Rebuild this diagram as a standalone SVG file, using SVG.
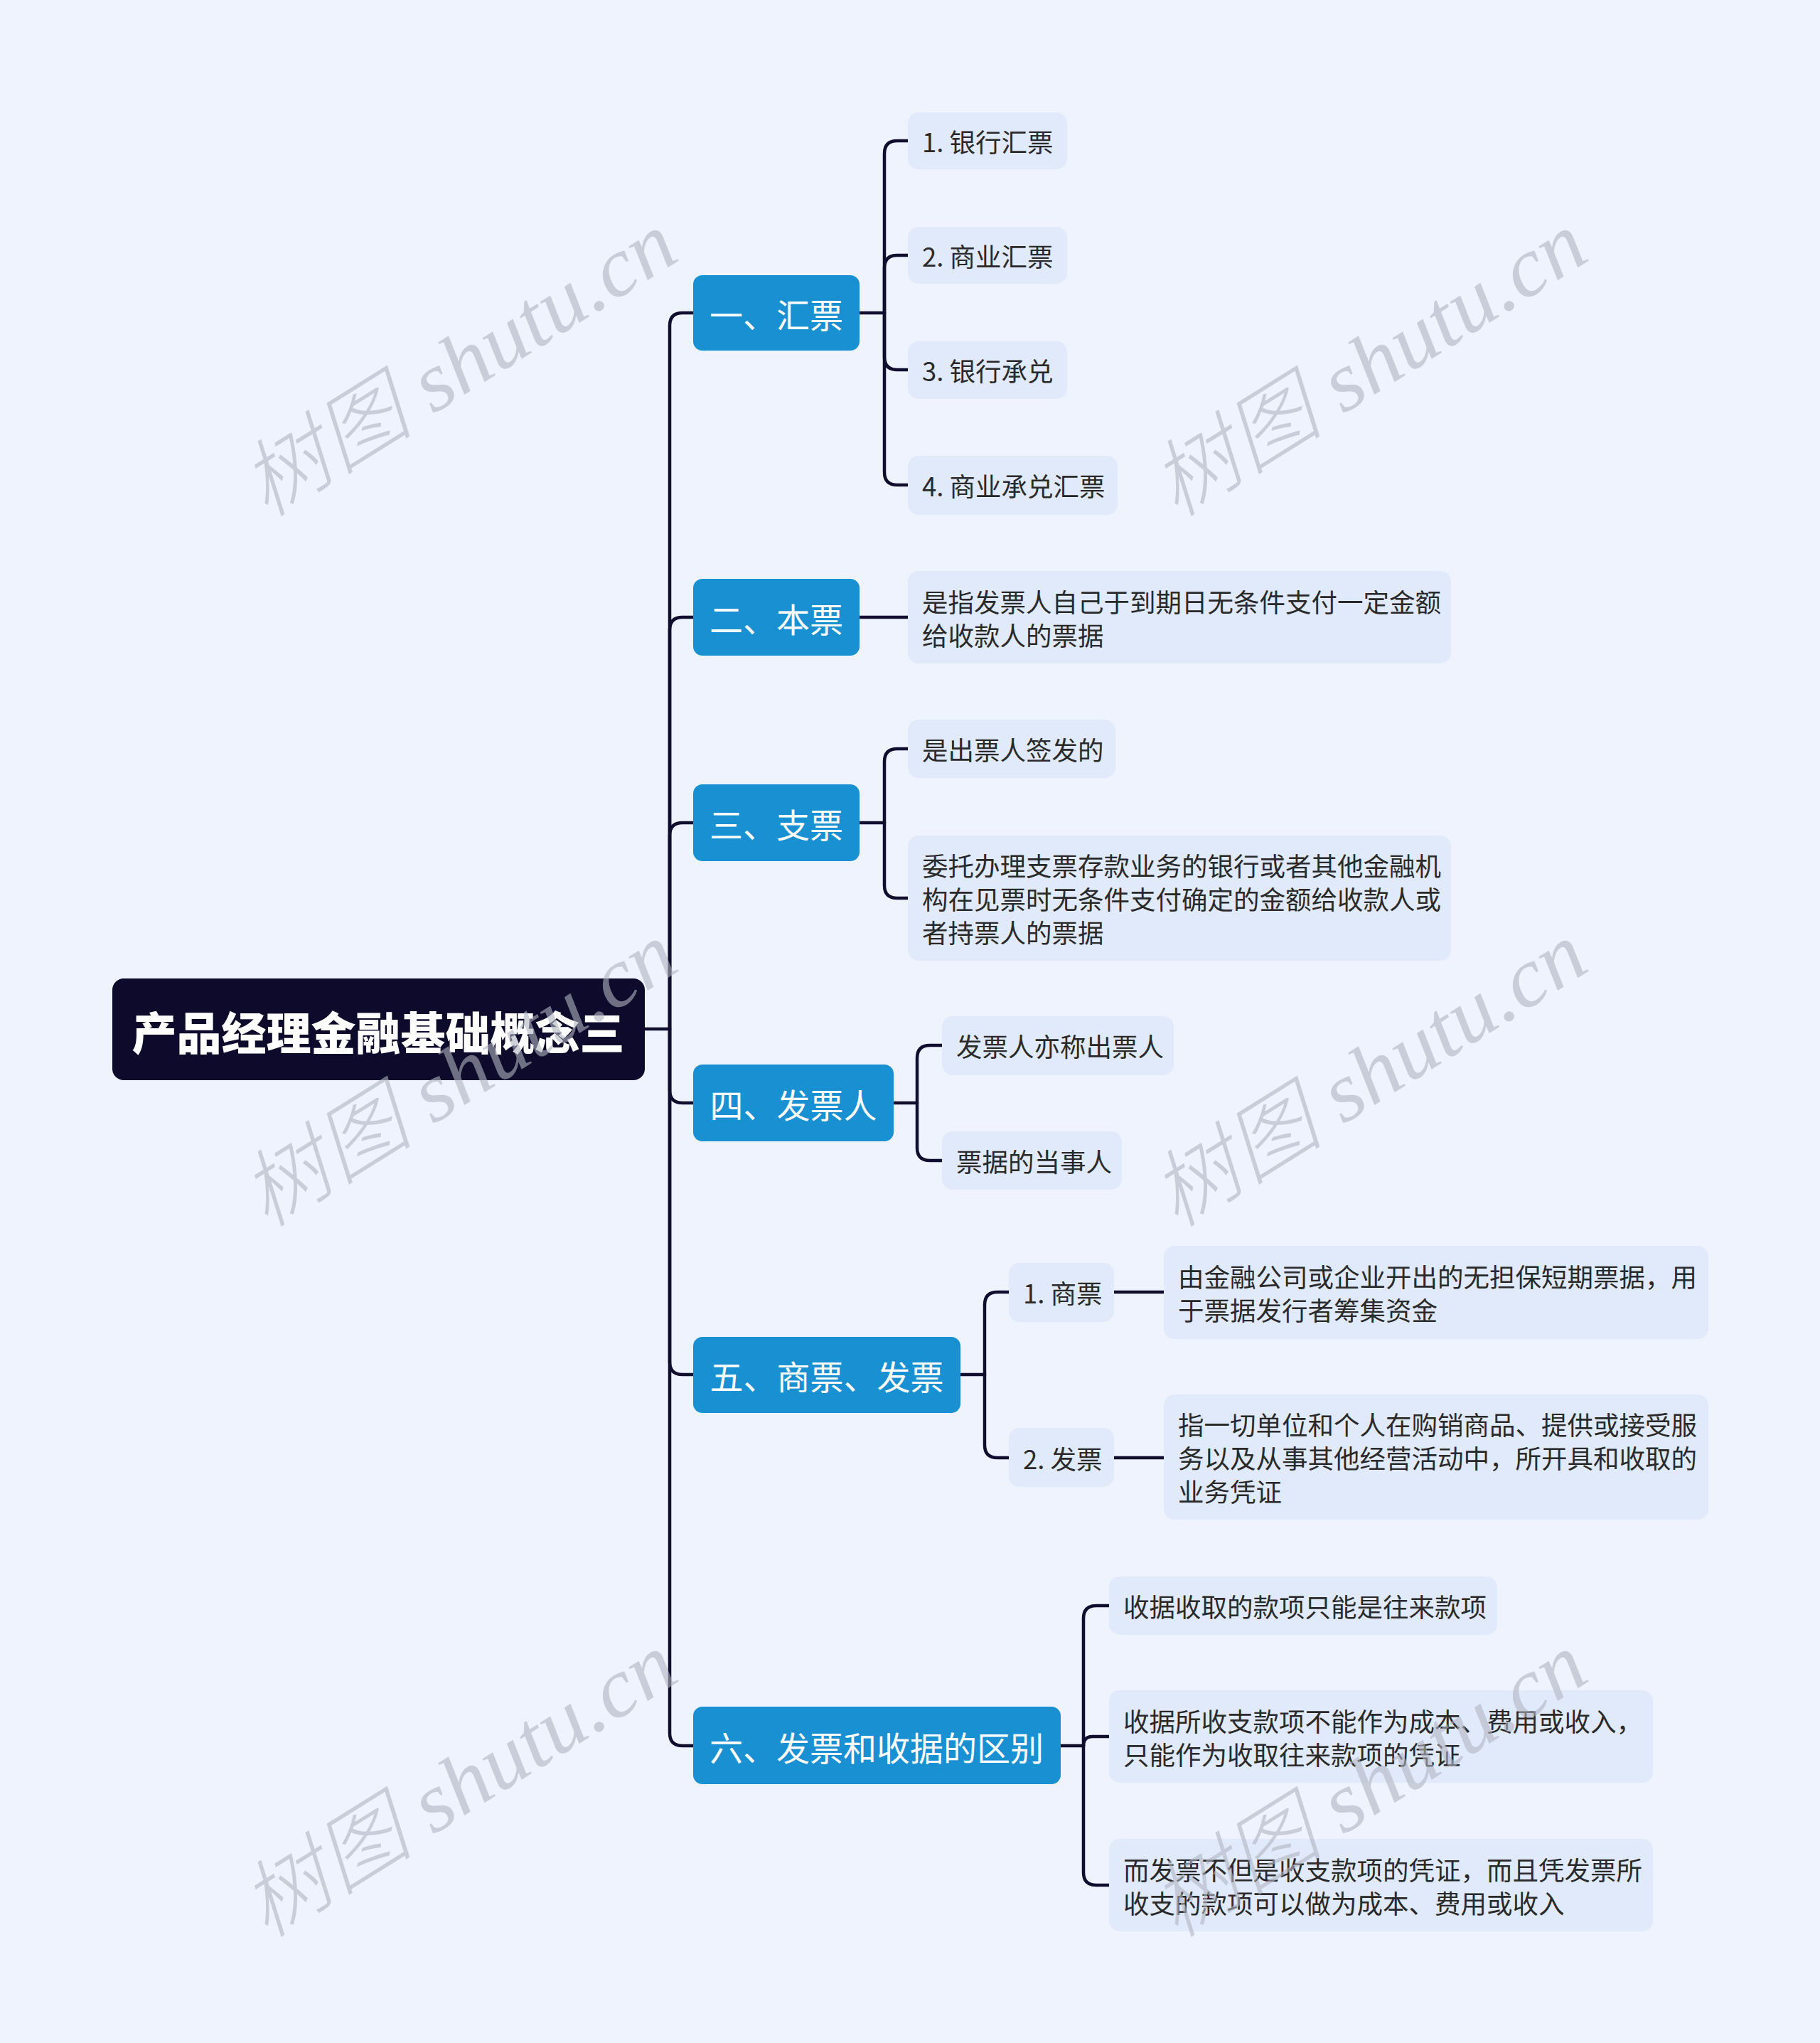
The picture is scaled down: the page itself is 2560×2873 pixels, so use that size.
<svg xmlns="http://www.w3.org/2000/svg" width="2560" height="2873" viewBox="0 0 2560 2873">
<style>
.root rect{fill:#0d0a2c}
.root text{fill:#ffffff;font-family:"Noto Sans CJK SC","Noto Sans",sans-serif;font-size:63px;font-weight:900}
.l1 rect{fill:#1890d2}
.l1 text{fill:#ffffff;font-family:"Noto Sans CJK SC","Noto Sans",sans-serif;font-size:47px}
.l2 rect{fill:#e1eafa}
.l2 text{fill:#2a2a2a;font-family:"Noto Sans CJK SC","Noto Sans",sans-serif;font-size:36.5px}
.edges path{fill:none;stroke:#100d2e;stroke-width:4.5;stroke-linecap:round}
.wm text{fill:#b0b4c0;fill-opacity:0.6;font-family:"Liberation Serif","Noto Sans CJK SC",serif;font-style:italic;font-weight:300;font-size:118px}
</style>
<rect x="0" y="0" width="2560" height="2873" fill="#eef3fe"/>

<g class="edges" id="connectors">
<path d="M907 1447 L942 1447"/>
<path d="M942 1447 L942 458 Q942 440 960 440 L975 440"/>
<path d="M942 1447 L942 886 Q942 868 960 868 L975 868"/>
<path d="M942 1447 L942 1175 Q942 1157 960 1157 L975 1157"/>
<path d="M942 1447 L942 1533 Q942 1551 960 1551 L975 1551"/>
<path d="M942 1447 L942 1915 Q942 1933 960 1933 L975 1933"/>
<path d="M942 1447 L942 2437 Q942 2455 960 2455 L975 2455"/>
<path d="M1209 440 L1244 440"/>
<path d="M1244 440 L1244 216 Q1244 198 1262 198 L1277 198"/>
<path d="M1244 440 L1244 377 Q1244 359 1262 359 L1277 359"/>
<path d="M1244 440 L1244 502 Q1244 520 1262 520 L1277 520"/>
<path d="M1244 440 L1244 664 Q1244 682 1262 682 L1277 682"/>
<path d="M1209 868 L1277 868"/>
<path d="M1209 1157 L1244 1157"/>
<path d="M1244 1157 L1244 1071 Q1244 1053 1262 1053 L1277 1053"/>
<path d="M1244 1157 L1244 1245 Q1244 1263 1262 1263 L1277 1263"/>
<path d="M1257 1551 L1290 1551"/>
<path d="M1290 1551 L1290 1488 Q1290 1470 1308 1470 L1325 1470"/>
<path d="M1290 1551 L1290 1614 Q1290 1632 1308 1632 L1325 1632"/>
<path d="M1351 1933 L1385 1933"/>
<path d="M1385 1933 L1385 1835 Q1385 1817 1403 1817 L1419 1817"/>
<path d="M1385 1933 L1385 2032 Q1385 2050 1403 2050 L1419 2050"/>
<path d="M1567 1817 L1637 1817"/>
<path d="M1567 2050 L1637 2050"/>
<path d="M1492 2455 L1524 2455"/>
<path d="M1524 2455 L1524 2276 Q1524 2258 1542 2258 L1560 2258"/>
<path d="M1524 2455 Q1524 2442 1537 2442 L1560 2442"/>
<path d="M1524 2455 L1524 2633 Q1524 2651 1542 2651 L1560 2651"/>
</g>

<g id="root" class="root">
<rect x="158" y="1376" width="749" height="143" rx="16"/>
<text x="532" y="1448" text-anchor="middle" dominant-baseline="central">产品经理金融基础概念三</text>
</g>

<g id="n1" class="l1"><rect x="975" y="387" width="234" height="106" rx="13"/><text x="1092" y="440" text-anchor="middle" dominant-baseline="central">一、汇票</text></g>
<g id="n2" class="l1"><rect x="975" y="814" width="234" height="108" rx="13"/><text x="1092" y="868" text-anchor="middle" dominant-baseline="central">二、本票</text></g>
<g id="n3" class="l1"><rect x="975" y="1103" width="234" height="108" rx="13"/><text x="1092" y="1157" text-anchor="middle" dominant-baseline="central">三、支票</text></g>
<g id="n4" class="l1"><rect x="975" y="1497" width="282" height="108" rx="13"/><text x="1116" y="1551" text-anchor="middle" dominant-baseline="central">四、发票人</text></g>
<g id="n5" class="l1"><rect x="975" y="1880" width="376" height="107" rx="13"/><text x="1163" y="1933" text-anchor="middle" dominant-baseline="central">五、商票、发票</text></g>
<g id="n6" class="l1"><rect x="975" y="2400" width="517" height="109" rx="13"/><text x="1233" y="2455" text-anchor="middle" dominant-baseline="central">六、发票和收据的区别</text></g>

<g id="n1a" class="l2"><rect x="1277" y="158" width="224" height="80" rx="15"/><text x="1297" y="198" dominant-baseline="central">1. 银行汇票</text></g>
<g id="n1b" class="l2"><rect x="1277" y="319" width="224" height="80" rx="15"/><text x="1297" y="359" dominant-baseline="central">2. 商业汇票</text></g>
<g id="n1c" class="l2"><rect x="1277" y="480" width="224" height="81" rx="15"/><text x="1297" y="520" dominant-baseline="central">3. 银行承兑</text></g>
<g id="n1d" class="l2"><rect x="1277" y="641" width="295" height="83" rx="15"/><text x="1297" y="682" dominant-baseline="central">4. 商业承兑汇票</text></g>

<g id="n2a" class="l2"><rect x="1277" y="803" width="764" height="130" rx="15"/>
<text x="1297" y="845" dominant-baseline="central">是指发票人自己于到期日无条件支付一定金额</text>
<text x="1297" y="892" dominant-baseline="central">给收款人的票据</text></g>

<g id="n3a" class="l2"><rect x="1277" y="1012" width="292" height="82" rx="15"/><text x="1297" y="1053" dominant-baseline="central">是出票人签发的</text></g>
<g id="n3b" class="l2"><rect x="1277" y="1175" width="764" height="176" rx="15"/>
<text x="1297" y="1216" dominant-baseline="central">委托办理支票存款业务的银行或者其他金融机</text>
<text x="1297" y="1263" dominant-baseline="central">构在见票时无条件支付确定的金额给收款人或</text>
<text x="1297" y="1310" dominant-baseline="central">者持票人的票据</text></g>

<g id="n4a" class="l2"><rect x="1325" y="1429" width="326" height="83" rx="15"/><text x="1345" y="1470" dominant-baseline="central">发票人亦称出票人</text></g>
<g id="n4b" class="l2"><rect x="1325" y="1591" width="253" height="82" rx="15"/><text x="1345" y="1632" dominant-baseline="central">票据的当事人</text></g>

<g id="n5a" class="l2"><rect x="1419" y="1776" width="148" height="83" rx="15"/><text x="1439" y="1817" dominant-baseline="central">1. 商票</text></g>
<g id="n5b" class="l2"><rect x="1419" y="2008" width="148" height="83" rx="15"/><text x="1439" y="2050" dominant-baseline="central">2. 发票</text></g>
<g id="n5a1" class="l2"><rect x="1637" y="1752" width="766" height="131" rx="15"/>
<text x="1657" y="1794" dominant-baseline="central">由金融公司或企业开出的无担保短期票据，用</text>
<text x="1657" y="1841" dominant-baseline="central">于票据发行者筹集资金</text></g>
<g id="n5b1" class="l2"><rect x="1637" y="1961" width="766" height="176" rx="15"/>
<text x="1657" y="2002" dominant-baseline="central">指一切单位和个人在购销商品、提供或接受服</text>
<text x="1657" y="2049" dominant-baseline="central">务以及从事其他经营活动中，所开具和收取的</text>
<text x="1657" y="2096" dominant-baseline="central">业务凭证</text></g>

<g id="n6a" class="l2"><rect x="1560" y="2217" width="546" height="82" rx="15"/><text x="1580" y="2258" dominant-baseline="central">收据收取的款项只能是往来款项</text></g>
<g id="n6b" class="l2"><rect x="1560" y="2377" width="765" height="130" rx="15"/>
<text x="1580" y="2419" dominant-baseline="central">收据所收支款项不能作为成本、费用或收入，</text>
<text x="1580" y="2466" dominant-baseline="central">只能作为收取往来款项的凭证</text></g>
<g id="n6c" class="l2"><rect x="1560" y="2586" width="765" height="130" rx="15"/>
<text x="1580" y="2628" dominant-baseline="central">而发票不但是收支款项的凭证，而且凭发票所</text>
<text x="1580" y="2675" dominant-baseline="central">收支的款项可以做为成本、费用或收入</text></g>

<g class="wm">
<text transform="translate(646 513) rotate(-32)" text-anchor="middle" dominant-baseline="central" textLength="690" lengthAdjust="spacingAndGlyphs">树图 shutu.cn</text>
<text transform="translate(1926 513) rotate(-32)" text-anchor="middle" dominant-baseline="central" textLength="690" lengthAdjust="spacingAndGlyphs">树图 shutu.cn</text>
<text transform="translate(646 1512) rotate(-32)" text-anchor="middle" dominant-baseline="central" textLength="690" lengthAdjust="spacingAndGlyphs">树图 shutu.cn</text>
<text transform="translate(1926 1512) rotate(-32)" text-anchor="middle" dominant-baseline="central" textLength="690" lengthAdjust="spacingAndGlyphs">树图 shutu.cn</text>
<text transform="translate(646 2511) rotate(-32)" text-anchor="middle" dominant-baseline="central" textLength="690" lengthAdjust="spacingAndGlyphs">树图 shutu.cn</text>
<text transform="translate(1926 2511) rotate(-32)" text-anchor="middle" dominant-baseline="central" textLength="690" lengthAdjust="spacingAndGlyphs">树图 shutu.cn</text>
</g>
</svg>
